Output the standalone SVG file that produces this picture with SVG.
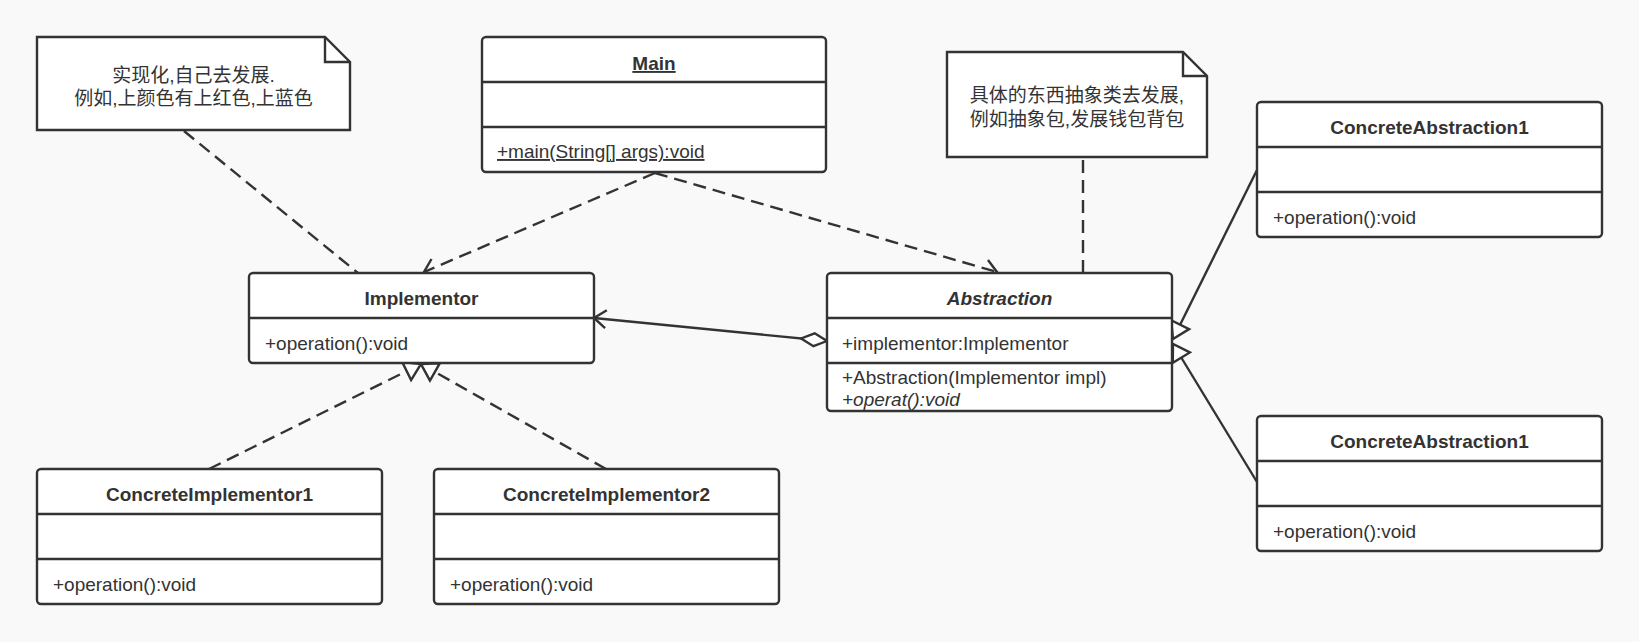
<svg xmlns="http://www.w3.org/2000/svg" width="1639" height="642" viewBox="0 0 1639 642">
<style>
.box{fill:#fff;stroke:#333;stroke-width:2.4}
.div{stroke:#333;stroke-width:2.4}
.t{font-family:"Liberation Sans",Arial,"Noto Sans CJK SC",sans-serif;font-size:19px;fill:#333}
.b{font-weight:bold;text-anchor:middle}
.c{text-anchor:middle}
.i{font-style:italic}
.u{text-decoration:underline}
.dash{fill:none;stroke:#333;stroke-width:2.4;stroke-dasharray:13 7}
.solid{fill:none;stroke:#333;stroke-width:2.4}
</style>
<defs>
<marker id="open" markerUnits="userSpaceOnUse" markerWidth="20" markerHeight="24" refX="14" refY="10" orient="auto" viewBox="0 0 20 20">
<path d="M2,1 L14,10 L2,19" fill="none" stroke="#333" stroke-width="2.4" stroke-dasharray="none"/>
</marker>
<marker id="tri" markerUnits="userSpaceOnUse" markerWidth="24" markerHeight="26" refX="18" refY="12" orient="auto" viewBox="0 0 24 24">
<path d="M2,2 L18,12 L2,22 Z" fill="#fff" stroke="#333" stroke-width="2.4" stroke-dasharray="none"/>
</marker>
<marker id="dia" markerUnits="userSpaceOnUse" markerWidth="30" markerHeight="18" refX="1" refY="8" orient="auto" viewBox="0 0 30 16">
<path d="M1,8 L14,1.5 L27,8 L14,14.5 Z" fill="#fff" stroke="#333" stroke-width="2.4" stroke-dasharray="none"/>
</marker>
</defs>
<rect width="1639" height="642" fill="#f9f9f9"/>

<g id="connectors">
<path class="dash" d="M184,131 L358,273"/>
<path class="dash" d="M1083,160 L1083,273"/>
<path class="dash" d="M655,173 L424,272" marker-end="url(#open)"/>
<path class="dash" d="M655,173 L997,272" marker-end="url(#open)"/>
<path class="solid" d="M827,341 L594,318" marker-start="url(#dia)" marker-end="url(#open)"/>
<path class="dash" d="M209,469 L421,364" marker-end="url(#tri)"/>
<path class="dash" d="M606,469 L421,364" marker-end="url(#tri)"/>
<path class="solid" d="M1257,170 L1173,339" marker-end="url(#tri)"/>
<path class="solid" d="M1257,482 L1173,344" marker-end="url(#tri)"/>
</g>

<g id="note1">
<path d="M37,37 H325 L350,62 V130 H37 Z" fill="#fff" stroke="#333" stroke-width="2.4"/>
<path d="M325,37 V62 H350" fill="none" stroke="#333" stroke-width="2.4"/>
<text class="t c" x="193.5" y="82">实现化,自己去发展.</text>
<text class="t c" x="193.5" y="105">例如,上颜色有上红色,上蓝色</text>
</g>

<g id="note2">
<path d="M947,52 H1183 L1207,76 V157 H947 Z" fill="#fff" stroke="#333" stroke-width="2.4"/>
<path d="M1183,52 V76 H1207" fill="none" stroke="#333" stroke-width="2.4"/>
<text class="t c" x="1077" y="102">具体的东西抽象类去发展,</text>
<text class="t c" x="1077" y="126">例如抽象包,发展钱包背包</text>
</g>

<g id="main">
<rect class="box" x="482" y="37" width="344" height="135" rx="4"/>
<line class="div" x1="482" y1="82" x2="826" y2="82"/>
<line class="div" x1="482" y1="127" x2="826" y2="127"/>
<text class="t b u" x="654" y="70">Main</text>
<text class="t u" x="497" y="158">+main(String[] args):void</text>
</g>

<g id="implementor">
<rect class="box" x="249" y="273" width="345" height="90" rx="4"/>
<line class="div" x1="249" y1="318" x2="594" y2="318"/>
<text class="t b" x="421.5" y="305">Implementor</text>
<text class="t" x="265" y="350">+operation():void</text>
</g>

<g id="abstraction">
<rect class="box" x="827" y="273" width="345" height="138" rx="4"/>
<line class="div" x1="827" y1="318" x2="1172" y2="318"/>
<line class="div" x1="827" y1="363" x2="1172" y2="363"/>
<text class="t b i" x="999.5" y="305">Abstraction</text>
<text class="t" x="842" y="350">+implementor:Implementor</text>
<text class="t" x="842" y="384">+Abstraction(Implementor impl)</text>
<text class="t i" x="842" y="406">+operat():void</text>
</g>

<g id="concreteAbstraction1a">
<rect class="box" x="1257" y="102" width="345" height="135" rx="4"/>
<line class="div" x1="1257" y1="147" x2="1602" y2="147"/>
<line class="div" x1="1257" y1="192" x2="1602" y2="192"/>
<text class="t b" x="1429.5" y="134">ConcreteAbstraction1</text>
<text class="t" x="1273" y="224">+operation():void</text>
</g>

<g id="concreteAbstraction1b">
<rect class="box" x="1257" y="416" width="345" height="135" rx="4"/>
<line class="div" x1="1257" y1="461" x2="1602" y2="461"/>
<line class="div" x1="1257" y1="506" x2="1602" y2="506"/>
<text class="t b" x="1429.5" y="448">ConcreteAbstraction1</text>
<text class="t" x="1273" y="538">+operation():void</text>
</g>

<g id="concreteImplementor1">
<rect class="box" x="37" y="469" width="345" height="135" rx="4"/>
<line class="div" x1="37" y1="514" x2="382" y2="514"/>
<line class="div" x1="37" y1="559" x2="382" y2="559"/>
<text class="t b" x="209.5" y="501">ConcreteImplementor1</text>
<text class="t" x="53" y="591">+operation():void</text>
</g>

<g id="concreteImplementor2">
<rect class="box" x="434" y="469" width="345" height="135" rx="4"/>
<line class="div" x1="434" y1="514" x2="779" y2="514"/>
<line class="div" x1="434" y1="559" x2="779" y2="559"/>
<text class="t b" x="606.5" y="501">ConcreteImplementor2</text>
<text class="t" x="450" y="591">+operation():void</text>
</g>
</svg>
